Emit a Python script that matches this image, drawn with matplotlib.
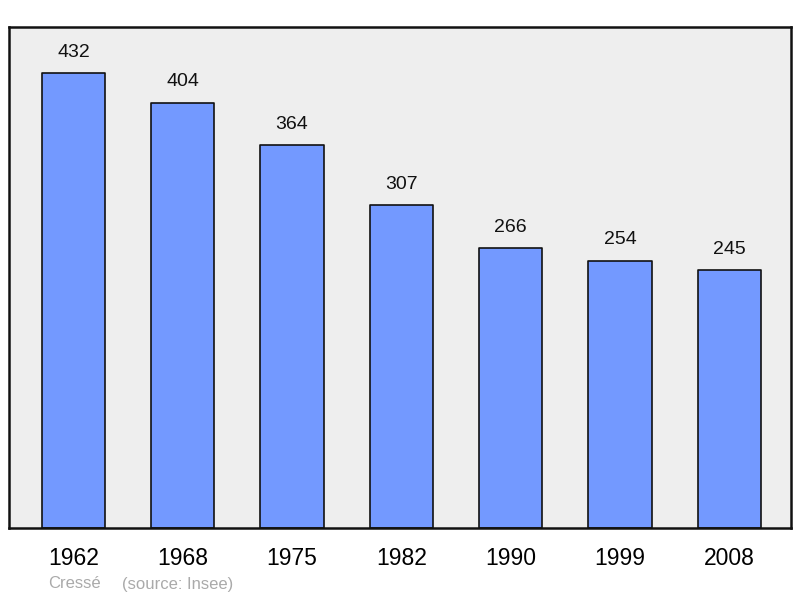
import matplotlib
matplotlib.use('Agg')
from matplotlib import pyplot as plt

years = ['1962', '1968', '1975', '1982', '1990', '1999', '2008']
population = [432, 404, 364, 307, 266, 254, 245]

plt.rcParams['font.family'] = ['Liberation Sans', 'DejaVu Sans']

fig = plt.figure(figsize=(8, 5.98), dpi=100)
ax = fig.add_axes([9 / 800, 70 / 598, 782 / 800, 501 / 598])
ax.set_facecolor('#eeeeee')

x = range(len(years))
bars = ax.bar(x, population, width=0.58, color='#7399ff',
              edgecolor='#111111', linewidth=1.2)
for b in bars:
    b.set_joinstyle('round')

for xi, v in zip(x, population):
    ax.annotate(str(v), (xi, v), xytext=(0, 15), textcoords='offset points',
                ha='center', va='center', fontsize=14, color='#111111')

ax.set_xlim(-0.59, 6.565)
ax.set_ylim(0, 476)
ax.set_yticks([])
ax.set_xticks(list(x))
ax.set_xticklabels(years, fontsize=16.5)
ax.tick_params(axis='x', length=0, pad=14)
for s in ax.spines.values():
    s.set_linewidth(1.8)
    s.set_color('#111111')

fig.text(48 / 800, 1 - 584 / 598, 'Cressé', color='#aaaaaa', fontsize=12,
         va='center', ha='left')
fig.text(122 / 800, 1 - 584 / 598, '(source: Insee)', color='#aaaaaa',
         fontsize=12, va='center', ha='left')

fig.savefig('out.png', dpi=100)
